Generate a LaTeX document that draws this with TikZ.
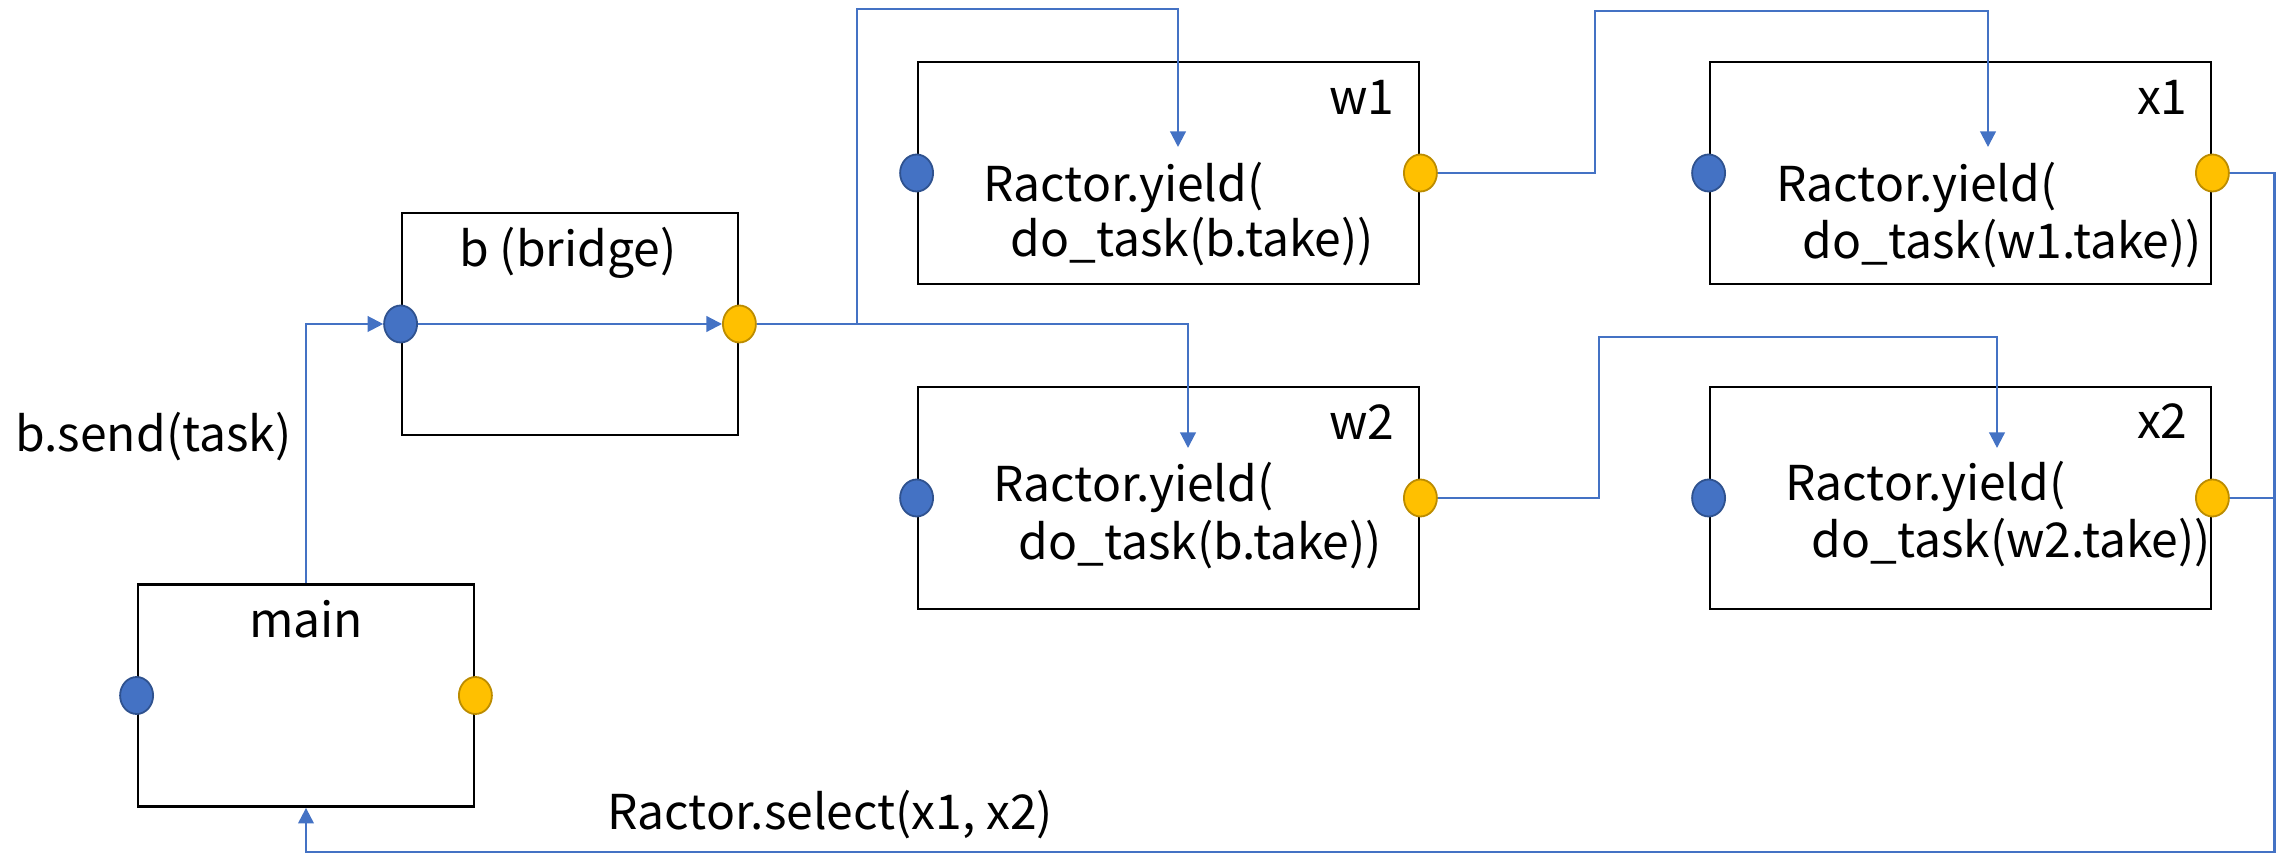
\documentclass[tikz,border=0pt]{standalone}
\usepackage{fontspec}
\setmainfont{Noto Sans CJK JP}
\usetikzlibrary{arrows.meta,shapes.geometric}
\definecolor{ublue}{RGB}{68,114,196}
\definecolor{ubluedark}{RGB}{47,82,143}
\definecolor{uyellow}{RGB}{255,192,0}
\definecolor{uyellowdark}{RGB}{188,140,0}
\newcommand{\dfont}{\fontsize{24}{28}\selectfont}
\tikzset{
  rbox/.style={draw=black, line width=1.4pt, minimum width=168pt, minimum height=111pt, inner sep=0pt},
  wbox/.style={draw=black, line width=1.4pt, minimum width=250.5pt, minimum height=111pt, inner sep=0pt},
  port/.style={ellipse, inner sep=0pt, minimum width=16.5pt, minimum height=18.5pt, line width=0.9pt},
  inport/.style={port, fill=ublue, draw=ubluedark},
  outport/.style={port, fill=uyellow, draw=uyellowdark},
  conn/.style={draw=ublue, line width=1.1pt},
  tip/.style={-{Triangle[length=7.8pt,width=7.8pt]}},
  txt/.style={inner sep=0pt, font=\dfont, text=black}
}
\begin{document}
\begin{tikzpicture}[x=0.5pt,y=-0.5pt]
\useasboundingbox (0,0) rectangle (2276,854);
% boxes
\node[rbox] (b) at (570,324) {};
\node[rbox] (main) at (306,695.5) {};
\node[wbox] (w1) at (1168.5,173) {};
\node[wbox] (w2) at (1168.5,498) {};
\node[wbox] (x1) at (1960.5,173) {};
\node[wbox] (x2) at (1960.5,498) {};
% labels
\node[txt, anchor=base] (blabel) at (568,267) {b (bridge)};
\node[txt, anchor=base] (mainlabel) at (306,638) {main};
\node[txt, anchor=base east] (w1label) at (1395,115) {w1};
\node[txt, anchor=base east] (w2label) at (1395,440) {w2};
\node[txt, anchor=base east] (x1label) at (2188,115) {x1};
\node[txt, anchor=base east] (x2label) at (2188,439) {x2};
\node[txt, anchor=base west] (w1a) at (983,202) {Ractor.yield(};
\node[txt, anchor=base west] (w1b) at (1010,257) {do\_task(b.take))};
\node[txt, anchor=base west] (w2a) at (993,502) {Ractor.yield(};
\node[txt, anchor=base west] (w2b) at (1018,559.5) {do\_task(b.take))};
\node[txt, anchor=base west] (x1a) at (1776,201.5) {Ractor.yield(};
\node[txt, anchor=base west] (x1b) at (1802,258.7) {do\_task(w1.take))};
\node[txt, anchor=base west] (x2a) at (1785,501) {Ractor.yield(};
\node[txt, anchor=base west] (x2b) at (1811,558) {do\_task(w2.take))};
\node[txt, anchor=base west] (sendlabel) at (15,451.7) {b.send(task)};
\node[txt, anchor=base west] (selectlabel) at (607,830) {Ractor.select(x1, x2)};
% ports
\foreach \n in {b,main,w1,w2,x1,x2}{
  \node[inport] (\n in) at (\n.west) {};
  \node[outport] (\n out) at (\n.east) {};
}
% coordinates
\coordinate (j1) at (857,324);
\coordinate (j1t) at (857,9);
\coordinate (w1top) at (1178,9);
\coordinate (w1arr) at (1178,147);
\coordinate (j2) at (1188,324);
\coordinate (w2arr) at (1188,448);
\coordinate (k1) at (1595,173);
\coordinate (k1t) at (1595,11);
\coordinate (x1top) at (1988,11);
\coordinate (x1arr) at (1988,147);
\coordinate (k2) at (1599,498);
\coordinate (k2t) at (1599,337);
\coordinate (x2top) at (1997,337);
\coordinate (x2arr) at (1997,448);
\coordinate (r1) at (2274.5,173);
\coordinate (r2) at (2274.5,498);
\coordinate (rb) at (2274.5,852);
\coordinate (mb) at (306,852);
% connectors
\draw[conn, tip] (main.north) |- (bin.west);
\draw[conn, tip] (bin.east) -- (bout.west);
\draw[conn, tip] (bout.east) -- (j1) -- (j1t) -- (w1top) -- (w1arr);
\draw[conn, tip] (bout.east) -- (j2) -- (w2arr);
\draw[conn, tip] (w1out.east) -- (k1) -- (k1t) -- (x1top) -- (x1arr);
\draw[conn, tip] (w2out.east) -- (k2) -- (k2t) -- (x2top) -- (x2arr);
\draw[conn, tip] (x1out.east) -- (r1) -- (rb) -- (mb) -- (main.south);
\draw[conn] (x2out.east) -- (r2);
\end{tikzpicture}
\end{document}
